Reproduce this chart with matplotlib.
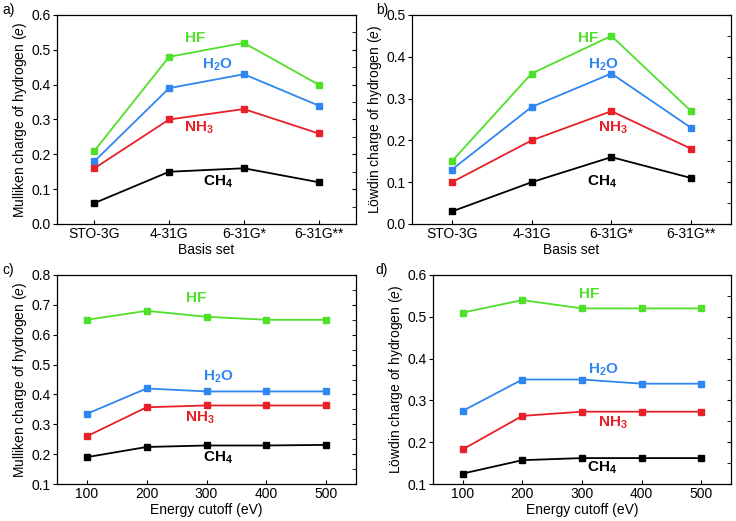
import matplotlib
matplotlib.use("Agg")
import matplotlib.pyplot as plt
from matplotlib.ticker import MultipleLocator, FormatStrFormatter

plt.rcParams['font.family'] = ['Liberation Sans', 'DejaVu Sans']
plt.rcParams['mathtext.fontset'] = 'custom'
plt.rcParams['mathtext.rm'] = 'Liberation Sans'
plt.rcParams['mathtext.it'] = 'Liberation Sans:italic'
plt.rcParams['mathtext.bf'] = 'Liberation Sans:bold'

basis = ["STO-3G", "4-31G", "6-31G*", "6-31G**"]
cutoff = [100, 200, 300, 400, 500]

# a) Mulliken vs basis set
a_hf = [0.21, 0.48, 0.52, 0.40]
a_h2o = [0.18, 0.39, 0.43, 0.34]
a_nh3 = [0.16, 0.30, 0.33, 0.26]
a_ch4 = [0.06, 0.15, 0.16, 0.12]

# b) Lowdin vs basis set
b_hf = [0.15, 0.36, 0.45, 0.27]
b_h2o = [0.13, 0.28, 0.36, 0.23]
b_nh3 = [0.10, 0.20, 0.27, 0.18]
b_ch4 = [0.03, 0.10, 0.16, 0.11]

# c) Mulliken vs energy cutoff
c_hf = [0.65, 0.68, 0.66, 0.65, 0.65]
c_h2o = [0.335, 0.42, 0.41, 0.41, 0.41]
c_nh3 = [0.26, 0.357, 0.363, 0.363, 0.363]
c_ch4 = [0.19, 0.224, 0.229, 0.229, 0.231]

# d) Lowdin vs energy cutoff
d_hf = [0.51, 0.54, 0.52, 0.52, 0.52]
d_h2o = [0.275, 0.35, 0.35, 0.34, 0.34]
d_nh3 = [0.183, 0.263, 0.273, 0.273, 0.273]
d_ch4 = [0.125, 0.157, 0.162, 0.162, 0.162]

names = ["HF", r"H$_\mathregular{2}$O", r"NH$_\mathregular{3}$", r"CH$_\mathregular{4}$"]
colors = ["#4fe02a", "#2f86f0", "#e8202a", "#000000"]

mull = r"Mulliken charge of hydrogen ($\it{e}$)"
lowd = r"Löwdin charge of hydrogen ($\it{e}$)"

panels = [
    # rect (px), x, series, ylim, ylabel, xlabel, label positions, tag, tag x (px)
    ([57, 15, 356, 224], None, [a_hf, a_h2o, a_nh3, a_ch4], (0, 0.6), mull, "Basis set",
     [(1.35, 0.534), (1.65, 0.456), (1.4, 0.276), (1.65, 0.12)], "a)", 2),
    ([412, 15, 731, 224], None, [b_hf, b_h2o, b_nh3, b_ch4], (0, 0.5), lowd, "Basis set",
     [(1.71, 0.445), (1.9, 0.38), (2.02, 0.23), (1.88, 0.10)], "b)", 376),
    ([57, 275, 356, 484], cutoff, [c_hf, c_h2o, c_nh3, c_ch4], (0.1, 0.8), mull, "Energy cutoff (eV)",
     [(282, 0.723), (319, 0.458), (289, 0.321), (319, 0.187)], "c)", 2),
    ([433, 275, 731, 484], cutoff, [d_hf, d_h2o, d_nh3, d_ch4], (0.1, 0.6), lowd, "Energy cutoff (eV)",
     [(312, 0.555), (335, 0.373), (352, 0.246), (333, 0.138)], "d)", 375),
]

W, H = 736, 521
fig = plt.figure(figsize=(W / 100, H / 100), dpi=100)

for rect, xs, series, ylim, ylabel, xlabel, lpos, tag, tagx in panels:
    l, t, r, b = rect
    ax = fig.add_axes([l / W, 1 - b / H, (r - l) / W, (b - t) / H])
    x = list(range(len(basis))) if xs is None else xs
    for ys, c, name, (tx, ty) in zip(series, colors, names, lpos):
        ax.plot(x, ys, color=c, lw=1.3, marker='s', ms=4, mec=c, mfc=c)
        ax.text(tx, ty, name, color=c, fontsize=11, fontweight='bold', ha='center', va='center')
    if xs is None:
        ax.set_xticks(x)
        ax.set_xticklabels(basis)
        ax.set_xlim(-0.5, 3.5)
    else:
        ax.set_xticks(cutoff)
        ax.set_xlim(50, 550)
    ax.set_ylim(*ylim)
    ax.yaxis.set_major_locator(MultipleLocator(0.1))
    ax.yaxis.set_minor_locator(MultipleLocator(0.05))
    ax.yaxis.set_major_formatter(FormatStrFormatter('%.1f'))
    ax.tick_params(axis='y', which='major', left=True, direction='out', length=3, labelsize=10, pad=1.5)
    ax.tick_params(axis='y', which='minor', left=False)
    ax.tick_params(axis='y', which='both', right=True, labelright=False)
    for tk in ax.yaxis.get_major_ticks() + ax.yaxis.get_minor_ticks():
        tk.tick2line.set_marker(matplotlib.lines.TICKLEFT)
        tk.tick2line.set_markersize(3)
    ax.tick_params(axis='x', direction='in', length=3, labelsize=10, pad=2.5)
    for s in ax.spines.values():
        s.set_linewidth(0.9)
    ax.set_xlabel(xlabel, fontsize=10, labelpad=1)
    ax.set_ylabel(ylabel, fontsize=10, labelpad=2)
    fig.text(tagx / W, 1 - (t - 12) / H, tag, fontsize=10, ha='left', va='top')

fig.savefig("out.png", dpi=100)
